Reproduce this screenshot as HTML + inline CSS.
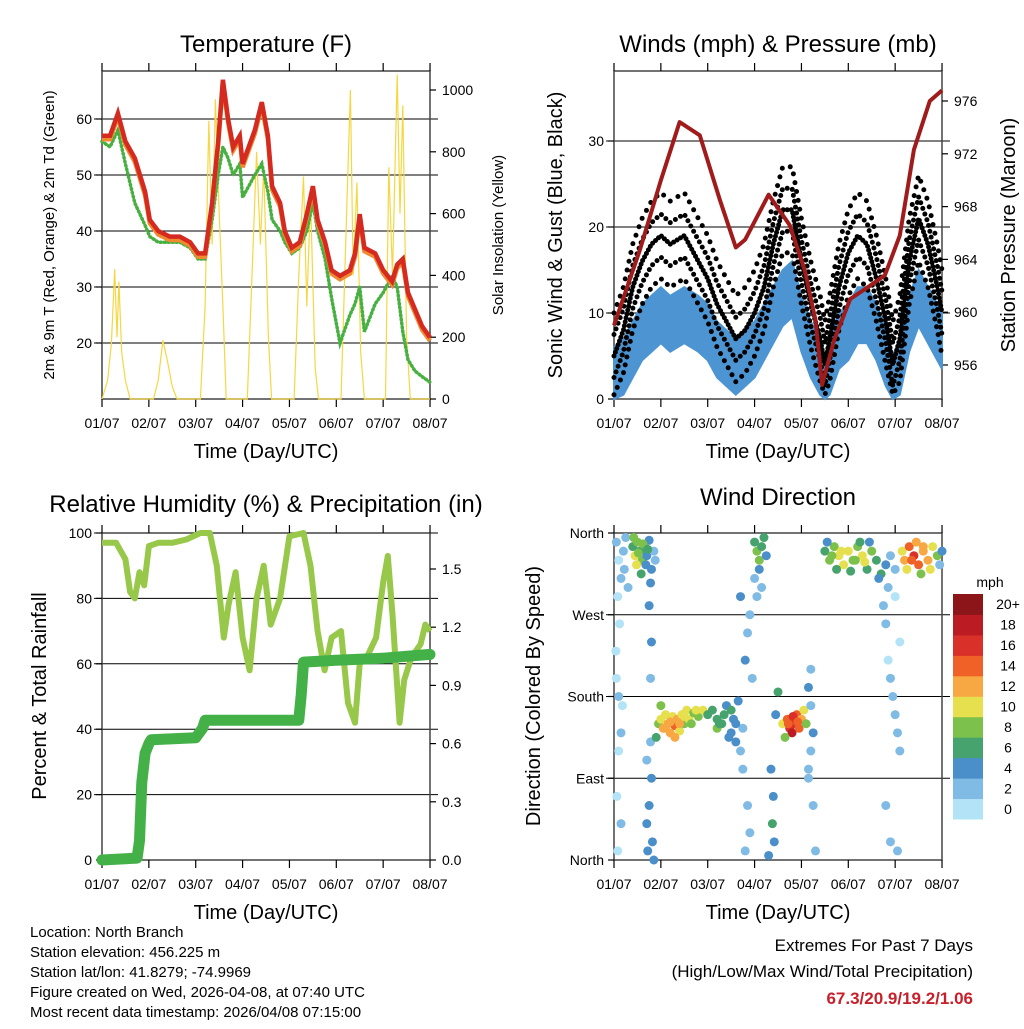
<!DOCTYPE html>
<html><head><meta charset="utf-8"><style>
html,body{margin:0;padding:0;background:#fff}
svg text{font-family:"Liberation Sans",Arial,sans-serif;fill:#000}
</style></head><body>
<svg id="s" width="1024" height="1024" viewBox="0 0 1024 1024" xmlns="http://www.w3.org/2000/svg">
<rect width="1024" height="1024" fill="#fff"/>
<text x="266" y="52" font-size="24" text-anchor="middle">Temperature (F)</text>
<text x="778" y="52" font-size="24" text-anchor="middle">Winds (mph) &amp; Pressure (mb)</text>
<text x="266" y="512" font-size="24" text-anchor="middle">Relative Humidity (%) &amp; Precipitation (in)</text>
<text x="778" y="505" font-size="24" text-anchor="middle">Wind Direction</text>
<text x="266" y="458" font-size="20" text-anchor="middle">Time (Day/UTC)</text>
<text x="778" y="458" font-size="20" text-anchor="middle">Time (Day/UTC)</text>
<text x="266" y="919" font-size="20" text-anchor="middle">Time (Day/UTC)</text>
<text x="778" y="919" font-size="20" text-anchor="middle">Time (Day/UTC)</text>
<text transform="translate(54,235) rotate(-90)" font-size="15" text-anchor="middle">2m &amp; 9m T (Red, Orange) &amp; 2m Td (Green)</text>
<text transform="translate(503,235) rotate(-90)" font-size="15" text-anchor="middle">Solar Insolation (Yellow)</text>
<text transform="translate(562,235) rotate(-90)" font-size="20" text-anchor="middle">Sonic Wind &amp; Gust (Blue, Black)</text>
<text transform="translate(1015,235) rotate(-90)" font-size="20" text-anchor="middle">Station Pressure (Maroon)</text>
<text transform="translate(46,696) rotate(-90)" font-size="20" text-anchor="middle">Percent &amp; Total Rainfall</text>
<text transform="translate(540,696) rotate(-90)" font-size="20" text-anchor="middle">Direction (Colored By Speed)</text>
<g font-size="15">
<text x="30" y="937">Location: North Branch</text>
<text x="30" y="957">Station elevation: 456.225 m</text>
<text x="30" y="977">Station lat/lon: 41.8279; -74.9969</text>
<text x="30" y="997">Figure created on Wed, 2026-04-08, at 07:40 UTC</text>
<text x="30" y="1017">Most recent data timestamp: 2026/04/08 07:15:00</text>
</g>
<g font-size="17" text-anchor="end">
<text x="973" y="951">Extremes For Past 7 Days</text>
<text x="973" y="977">(High/Low/Max Wind/Total Precipitation)</text>
<text x="973" y="1004" font-weight="bold" style="fill:#c8202a">67.3/20.9/19.2/1.06</text>
</g>
<g id="g"></g>
</svg>
<script>
// ---------- data ----------
const dayLabels = ['01/07','02/07','03/07','04/07','05/07','06/07','07/07','08/07'];
const tTimes = [0,0.17,0.34,0.5,0.7,0.92,1.02,1.2,1.45,1.66,1.88,2.05,2.2,2.35,2.48,2.58,2.69,2.8,2.94,3.0,3.26,3.41,3.54,3.63,3.8,3.9,4.05,4.22,4.37,4.5,4.6,4.76,4.9,5.08,5.29,5.4,5.5,5.6,5.83,6.0,6.19,6.3,6.42,6.53,6.68,6.83,7.0];
const tempRed = [57,57,61,56,53,47,42,40,39,39,38,36,36,45,56,67,60,55,57,52,58,63,57,48,45,40,37,38,43,48,42,38,33,32,33,36,43,37,36,33,31,34,35,29,26,23,21];
const dewGreen = [56,55,58,52,45,41,39,38,38,38,37,35,35,42,50,55,53,50,52,46,50,52,47,42,40,38,36,37,40,45,40,35,28,20,25,27,30,22,27,29,32,30,22,17,15,14,13];
const solarTimes = [0,0.12,0.2,0.27,0.32,0.36,0.42,0.5,0.6,1.1,1.2,1.3,1.4,1.5,1.6,2.1,2.2,2.28,2.35,2.42,2.5,2.58,2.65,3.1,3.2,3.3,3.38,3.45,3.55,3.62,4.1,4.2,4.3,4.37,4.45,4.55,4.62,5.1,5.22,5.3,5.36,5.44,5.52,5.6,6.05,6.12,6.2,6.3,6.36,6.42,6.5,6.58,7.0];
const solarVals = [0,60,180,420,200,380,150,60,0,0,60,190,120,40,0,0,300,900,500,970,600,300,0,0,400,800,500,750,200,0,0,400,720,300,650,100,0,0,600,1000,400,700,150,0,0,750,400,1050,600,950,200,0,0];
const windTimes = [0,0.2,0.4,0.6,0.8,1.0,1.2,1.5,1.8,2.0,2.2,2.4,2.6,2.8,3.0,3.2,3.4,3.6,3.8,4.0,4.2,4.4,4.5,4.6,4.8,5.0,5.2,5.4,5.6,5.8,5.95,6.1,6.3,6.5,6.7,6.9,7.0];
const windSpeed = [3,4,6,8,9,10,9,10,9,8,6,5,4,5,6,8,10,12,13,9,6,4,2,4,7,8,10,10,8,5,2,4,9,12,10,8,7];
const windGust = [5,8,13,16,18,19,18,19,16,14,11,9,7,8,10,13,18,22,22,16,11,7,4,7,13,17,19,18,14,9,4,7,16,21,18,13,10];
const presTimes = [0,0.55,1.0,1.4,1.83,2.26,2.6,2.8,3.3,3.75,4.07,4.3,4.44,4.7,5.04,5.46,5.78,6.1,6.4,6.74,7.0];
const pressure = [959,964.7,970,974.4,973.4,968.5,964.9,965.5,968.9,966.6,963.2,959.4,954.5,957.9,961,962,962.8,965.8,972.3,976,976.8];
const rhTimes = [0,0.3,0.5,0.6,0.7,0.8,0.9,1.0,1.2,1.5,1.8,2.1,2.3,2.45,2.6,2.7,2.85,3.0,3.15,3.3,3.45,3.6,3.8,4.0,4.3,4.45,4.6,4.75,4.9,5.1,5.25,5.4,5.5,5.65,5.85,6.0,6.1,6.2,6.35,6.45,6.6,6.8,6.9,7.0];
const rhVals = [97,97,92,82,80,88,84,96,97,97,98,100,100,90,68,78,88,68,58,80,90,72,80,99,100,90,70,58,68,70,48,42,60,62,68,85,93,75,42,55,62,66,72,70];
const precipTimes = [0,0.75,0.8,0.85,0.92,1.0,1.05,2.0,2.15,2.2,4.2,4.25,4.3,5.0,6.0,7.0];
const precipVals = [0,0.01,0.1,0.4,0.55,0.6,0.62,0.63,0.68,0.72,0.72,0.85,1.02,1.03,1.04,1.06];
const dirTimes = [0.05,0.1,0.15,0.08,0.2,0.12,0.05,0.1,0.18,0.1,0.06,0.15,0.08,0.25,0.22,0.3,0.04,0.15,
0.4,0.45,0.5,0.55,0.6,0.48,0.65,0.7,0.75,0.8,0.85,0.58,0.42,0.68,0.78,0.88,0.52,0.62,0.72,
0.75,0.8,0.78,0.8,0.75,0.7,0.82,0.72,0.85,0.78,0.7,
0.95,1.0,1.05,1.1,1.15,1.2,1.25,1.3,1.35,1.4,1.45,1.5,1.55,1.6,1.7,1.8,1.9,0.9,1.0,1.3,1.1,1.2,1.4,1.5,1.65,1.75,
2.0,2.1,2.2,2.3,2.4,2.5,2.55,2.6,2.65,2.7,2.75,2.2,2.35,2.45,2.25,2.5,2.6,
2.85,2.9,2.8,2.95,2.75,2.85,2.9,2.8,2.7,
3.0,3.05,3.1,3.15,3.2,3.25,3.1,3.0,3.05,3.15,
3.35,3.4,3.38,3.42,3.3,3.45,3.5,
3.6,3.7,3.75,3.8,3.85,3.9,3.95,4.0,4.05,3.65,4.1,3.72,3.82,3.92,
4.15,4.2,4.25,4.2,4.15,4.25,4.3,4.2,4.15,
4.5,4.6,4.7,4.8,4.9,5.0,5.1,5.2,5.3,5.4,5.5,5.6,5.7,5.8,4.55,4.75,5.05,5.25,5.45,5.65,5.9,6.0,5.85,4.65,4.85,5.15,5.35,
5.75,5.8,5.85,5.9,5.95,6.0,6.05,6.1,5.8,5.9,6.05,6.0,6.1,
6.15,6.2,6.3,6.4,6.5,6.6,6.7,6.8,6.9,7.0,6.25,6.45,6.55,6.95,6.35,6.6,6.75];
const dirDegs = [350,330,310,290,340,260,200,180,170,120,70,40,10,355,320,300,230,140,
345,335,350,340,330,325,345,335,352,320,340,315,355,325,305,330,338,348,342,
280,240,200,90,60,40,20,10,0,130,110,
150,155,145,160,150,140,158,148,155,142,160,150,165,155,162,158,165,135,170,135,145,152,150,158,150,165,
160,165,155,150,170,140,155,130,175,120,145,145,160,135,150,165,150,
250,270,220,200,100,60,30,10,290,
350,340,330,345,355,335,320,310,290,300,
100,70,40,20,5,160,185,
150,155,145,140,150,160,145,155,165,135,150,150,158,152,
190,170,140,120,100,60,10,210,90,
340,330,345,335,325,340,330,345,335,320,340,330,315,325,350,320,318,350,350,310,335,320,300,335,340,330,328,
280,260,220,200,180,160,140,120,60,20,10,290,240,
340,330,345,335,325,340,330,345,335,340,320,350,315,325,330,345,320];
const dirSpeeds = [2,1,2,1,3,1,1,2,1,1,1,2,1,3,2,2,1,2,
7,10,8,6,9,11,6,5,4,4,3,7,8,5,4,3,9,8,6,
4,4,3,5,4,4,5,4,4,3,3,
8,10,12,11,13,12,10,14,12,11,10,9,10,11,9,8,10,6,9,13,12,13,12,11,9,10,
7,6,7,6,5,4,5,4,4,3,3,8,7,5,7,6,4,
2,3,4,3,2,2,2,2,4,
6,8,9,7,6,5,5,2,2,3,
4,5,6,5,4,5,6,
10,14,16,18,17,15,14,12,10,9,8,15,17,14,
4,3,4,3,2,2,2,2,3,
6,8,9,10,11,10,9,8,10,7,9,6,6,4,5,7,6,7,5,5,3,2,2,8,10,9,11,
2,2,1,2,3,3,3,2,2,2,3,1,1,
10,12,14,16,15,13,12,10,8,4,10,12,9,3,15,13,11];
const speedBins = ['0','2','4','6','8','10','12','14','16','18','20+'];
const speedColors = ['#b3e3f7','#7fbbe4','#4a8fca','#46a36d','#7cc14b','#e6e04f','#f7a843','#ef6127','#d9302a','#bb1c24','#8c1519'];

// ---------- helpers ----------
const NS='http://www.w3.org/2000/svg';
const G=document.getElementById('g');
function mk(tag,attrs,parent){const e=document.createElementNS(NS,tag);for(const k in attrs)e.setAttribute(k,attrs[k]);(parent||G).appendChild(e);return e;}
const DAYW=46.86;
function pts(times,vals,X,Y){return times.map((t,i)=>X(t).toFixed(1)+','+Y(vals[i]).toFixed(1)).join(' ');}

function frame(x0,y0,x1,y1,name,grids,Y){
  for(const v of grids){
    const l=mk('line',{x1:x0-8,x2:x1+8,y1:Y(v),y2:Y(v),stroke:'#000','stroke-width':1});
    
    
  }
  const r=mk('rect',{x:x0,y:y0,width:x1-x0,height:y1-y0,fill:'none',stroke:'#444','stroke-width':1.5});
  
  
  for(let d=0;d<=7;d++){
    const x=x0+d*DAYW;
    const tk=mk('line',{x1:x,x2:x,y1:y1,y2:y1+8,stroke:'#000','stroke-width':1.2});
    
    
    const tt=mk('line',{x1:x,x2:x,y1:y0,y2:y0-8,stroke:'#000','stroke-width':1.2});
    
    
    const lb=mk('text',{x:x,y:y1+29,'font-size':14,'text-anchor':'middle'});
    lb.textContent=dayLabels[d];
    
    
  }
}
function yTicks(x,vals,labels,Y,side,name){
  vals.forEach((v,i)=>{
    const dx=side==='left'?-6:6;
    const tk=mk('line',{x1:x,x2:x+dx,y1:Y(v),y2:Y(v),stroke:'#000','stroke-width':1.2});
    
    
    const lb=mk('text',{x:side==='left'?x-10:x+12,y:Y(v)+5,'font-size':14,'text-anchor':side==='left'?'end':'start'});
    lb.textContent=labels[i];
    
    
  });
}

// ---------- panel 1: temperature ----------
{
  const x0=102,x1=430,y0=71,y1=399;
  const X=t=>x0+t*DAYW, Y=v=>399-(v-10)*5.6, YS=v=>399-v*0.309;
  frame(x0,y0,x1,y1,'temp',[20,30,40,50,60],Y);
  yTicks(x0,[20,30,40,50,60],['20','30','40','50','60'],Y,'left','temp-y');
  yTicks(x1,[0,200,400,600,800,1000],['0','200','400','600','800','1000'],YS,'right','solar-y');
  const s=mk('polyline',{points:pts(solarTimes,solarVals,X,YS),fill:'none',stroke:'#f5d742','stroke-width':1.2});
  
  
  const gr=mk('polyline',{points:pts(tTimes,dewGreen,X,Y),fill:'none',stroke:'#48b040','stroke-width':3.5,'stroke-dasharray':'1 3','stroke-linecap':'round'});
  
  
  const o=mk('polyline',{points:pts(tTimes,tempRed.map(v=>v-0.6),X,Y),fill:'none',stroke:'#f08a30','stroke-width':4.5});
  
  
  const r=mk('polyline',{points:pts(tTimes,tempRed,X,Y),fill:'none',stroke:'#d42a20','stroke-width':4.5});
  
  
}

// ---------- panel 2: winds & pressure ----------
{
  const x0=614,x1=942,y0=71,y1=399;
  const X=t=>x0+t*DAYW, Y=v=>399-v*8.6, YP=p=>365-(p-956)*13.2;
  frame(x0,y0,x1,y1,'winds',[10,20,30],Y);
  yTicks(x0,[0,10,20,30],['0','10','20','30'],Y,'left','wind-y');
  yTicks(x1,[956,960,964,968,972,976],['956','960','964','968','972','976'],YP,'right','pressure-y');
  const upper=windTimes.map((t,i)=>X(t).toFixed(1)+','+Y(windSpeed[i]+3).toFixed(1));
  const lower=windTimes.map((t,i)=>X(t).toFixed(1)+','+Y(Math.max(0,windSpeed[i]-3.5)).toFixed(1)).reverse();
  const b=mk('polygon',{points:upper.concat(lower).join(' '),fill:'#4d95d2',stroke:'#4d95d2','stroke-width':2});
  
  
  const offsets=[5,2.5,0,-2.5,-5];
  const dashes=['0 9','0 6','0 4','0 6','0 8'];
  offsets.forEach((off,k)=>{
    const gl=mk('polyline',{points:pts(windTimes,windGust.map(v=>Math.max(0.5,v+off)),X,Y),fill:'none',stroke:'#000','stroke-width':5,'stroke-dasharray':dashes[k],'stroke-linecap':'round'});
    
    
  });
  const p=mk('polyline',{points:pts(presTimes,pressure,X,YP),fill:'none',stroke:'#a01c1c','stroke-width':4,'stroke-linejoin':'round'});
  
  
}

// ---------- panel 3: RH & precip ----------
{
  const x0=102,x1=430,y0=533,y1=860;
  const X=t=>x0+t*DAYW, Y=v=>860-v*3.27, YR=v=>860-v*194;
  frame(x0,y0,x1,y1,'rh',[20,40,60,80,100],Y);
  yTicks(x0,[0,20,40,60,80,100],['0','20','40','60','80','100'],Y,'left','rh-y');
  yTicks(x1,[0,0.3,0.6,0.9,1.2,1.5],['0.0','0.3','0.6','0.9','1.2','1.5'],YR,'right','precip-y');
  const rh=mk('polyline',{points:pts(rhTimes,rhVals,X,Y),fill:'none',stroke:'#98c84a','stroke-width':6,'stroke-linejoin':'round'});
  
  
  const pr=mk('polyline',{points:pts(precipTimes,precipVals,X,YR),fill:'none',stroke:'#44b048','stroke-width':11,'stroke-linejoin':'round','stroke-linecap':'round'});
  
  
}

// ---------- panel 4: wind direction ----------
{
  const x0=614,x1=942,y0=533,y1=860;
  const X=t=>x0+t*DAYW, Y=d=>860-d/360*327;
  frame(x0,y0,x1,y1,'wdir',[90,180,270],Y);
  yTicks(x0,[0,90,180,270,360],['North','East','South','West','North'],Y,'left','wdir-y');
  dirTimes.forEach((t,i)=>{
    const bin=Math.min(10,Math.floor(dirSpeeds[i]/2));
    const c=mk('circle',{cx:X(t),cy:Y(dirDegs[i]),r:4.5,fill:speedColors[bin]});
    
    
  });
  const u=mk('text',{x:990,y:587,'font-size':14,'text-anchor':'middle'});
  u.textContent='mph';
  
  
  const h=225/11;
  speedColors.forEach((col,i)=>{
    const y=819-(i+1)*h;
    const r=mk('rect',{x:953,y:y,width:30,height:h+0.5,fill:col});
    
    
    const l=mk('text',{x:1008,y:y+h/2+5,'font-size':14,'text-anchor':'middle'});
    l.textContent=speedBins[i];
    
    
  });
}
</script>
</body></html>
